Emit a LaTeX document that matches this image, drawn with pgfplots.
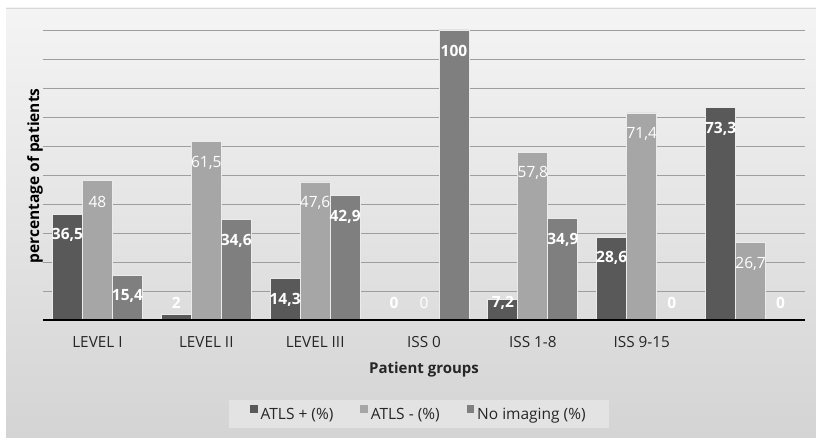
\documentclass[border=0pt]{standalone}
\usepackage{pgfplots}
\pgfplotsset{compat=1.18}
\usepackage{fontspec}
\setmainfont{Open Sans}

\definecolor{atlsplus}{HTML}{595959}
\definecolor{atlsminus}{HTML}{A6A6A6}
\definecolor{noimg}{HTML}{7F7F7F}
\definecolor{bgtop}{HTML}{F4F4F4}
\definecolor{bgbot}{HTML}{D4D4D4}
\definecolor{gridc}{HTML}{9E9E9E}
\definecolor{legbg}{HTML}{E3E3E3}
\definecolor{barline}{HTML}{EBEBEB}

\pgfplotsset{
  sqleg/.style={legend image code/.code={\fill[##1,draw=none] (0pt,1.5pt) rectangle (7.5pt,9pt);}},
}

\begin{document}
\begin{tikzpicture}[x=1pt,y=1pt]
\useasboundingbox (0,0) rectangle (816,437);
% chart area background
\shade[top color=bgtop, bottom color=bgbot] (6,0) rectangle (816,429);
\draw[gray!30, line width=0.8pt] (6,429) -- (816,429);
\begin{axis}[
  at={(43pt,117pt)}, anchor=south west,
  x=108.857pt, y=2.9pt,
  xmin=-0.5, xmax=6.5, ymin=0, ymax=100,
  ybar=0pt, bar width=30pt,
  axis line style={draw=none},
  ytick={0,10,...,100}, yticklabels={},
  ymajorgrids, grid style={gridc, line width=0.8pt},
  major tick length=0pt,
  xtick={0,...,6},
  xticklabels={LEVEL I,LEVEL II,LEVEL III,ISS 0,ISS 1-8,ISS 9-15,{}},
  xticklabel style={font=\fontsize{15.3}{18}\selectfont, text=black!85, anchor=north, inner sep=0pt, yshift=-16pt},
  xlabel={Patient groups},
  xlabel style={font=\bfseries\fontsize{15}{18}\selectfont, text=black!85, at={(axis description cs:0.5,0)}, anchor=north, inner sep=0pt, yshift=-42pt},
  ylabel={percentage of patients},
  ylabel style={font=\bfseries\fontsize{15.5}{18}\selectfont, text=black, at={(axis description cs:0,0.5)}, anchor=south, inner sep=0pt, xshift=-1pt},
  /pgf/number format/use comma,
  /pgf/number format/assume math mode=true,
  visualization depends on={rawy \as \rawy},
  every node near coord/.append style={anchor=center, text=white, yshift={max(-21,17-2.9*\rawy)}},
  legend style={at={(0.4933,-0.324)}, anchor=center, legend columns=3, fill=legbg, draw=none,
    font=\fontsize{15.5}{18}\selectfont, text=black!85, inner xsep=21pt, inner ysep=5.5pt,
    /tikz/every odd column/.append style={column sep=1pt},
    /tikz/every even column/.append style={column sep=25pt}},
  legend cell align=left,
]
\addplot[fill=atlsplus, draw=barline, line width=0.8pt, sqleg, nodes near coords,
  every node near coord/.append style={font=\bfseries\fontsize{15.5}{18}\selectfont}]
  coordinates {(0,36.5) (1,2) (2,14.3) (3,0) (4,7.2) (5,28.6) (6,73.3)};
\addlegendentry{ATLS + (\%)}
\addplot[fill=atlsminus, draw=barline, line width=0.8pt, sqleg, nodes near coords,
  every node near coord/.append style={font=\fontsize{15.5}{18}\selectfont}]
  coordinates {(0,48) (1,61.5) (2,47.6) (3,0) (4,57.8) (5,71.4) (6,26.7)};
\addlegendentry{ATLS - (\%)}
\addplot[fill=noimg, draw=barline, line width=0.8pt, sqleg, nodes near coords,
  every node near coord/.append style={font=\bfseries\fontsize{15.5}{18}\selectfont}]
  coordinates {(0,15.4) (1,34.6) (2,42.9) (3,100) (4,34.9) (5,0) (6,0)};
\addlegendentry{No imaging (\%)}
\draw[black, line width=1.4pt] (axis cs:-0.5,0) -- (axis cs:6.5,0);
\end{axis}
\end{tikzpicture}
\end{document}
